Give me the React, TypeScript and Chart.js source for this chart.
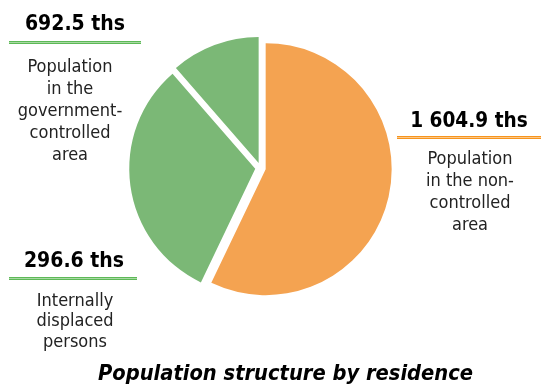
import React, { useEffect, useRef } from "react";
import { Chart, registerables } from "chart.js";

Chart.register(...registerables);

// Data
const categories = [
  "Population in the non-controlled area",
  "Population in the government-controlled area",
  "Internally displaced persons",
];
// slice shares (%)
const shares = [57.1, 31.5, 11.4];
const valueLabels = ["1 604.9 ths", "692.5 ths", "296.6 ths"];
const nonControlledLines = ["Population", "in the non-", "controlled", "area"];
const governmentLines = ["Population", "in the", "government-", "controlled", "area"];
const idpLines = ["Internally", "displaced", "persons"];
const chartTitle = "Population structure by residence";

const ORANGE = "#F4A351";
const GREEN = "#7BB876";
const LINE_GREEN = "#5DB957";
const LINE_GREEN_MID = "#A8D9A3";
const LINE_ORANGE = "#F7941D";
const LINE_ORANGE_MID = "#FBC88A";
const FONT = "'DejaVu Sans Condensed', 'DejaVu Sans', sans-serif";
const EXPLODE = 5.3;

const explodePlugin = {
  id: "explodeSlices",
  beforeDatasetDraw(chart: any, args: any) {
    args.meta.data.forEach((arc: any) => {
      const mid = (arc.startAngle + arc.endAngle) / 2;
      arc.$ox = arc.x;
      arc.$oy = arc.y;
      arc.x = arc.x + Math.cos(mid) * EXPLODE;
      arc.y = arc.y + Math.sin(mid) * EXPLODE;
    });
  },
  afterDatasetDraw(chart: any, args: any) {
    args.meta.data.forEach((arc: any) => {
      if (arc.$ox !== undefined) {
        arc.x = arc.$ox;
        arc.y = arc.$oy;
      }
    });
  },
};

function Line({ text, cx, baseline, size, bold = false, italic = false, color = "#222" }: any) {
  return (
    <div
      style={{
        position: "absolute",
        left: cx - 300,
        width: 600,
        top: baseline - 0.846 * size,
        height: size,
        lineHeight: size + "px",
        fontSize: size,
        fontFamily: FONT,
        fontWeight: bold ? "bold" : "normal",
        fontStyle: italic ? "italic" : "normal",
        textAlign: "center",
        color,
        whiteSpace: "nowrap",
      }}
    >
      {text}
    </div>
  );
}

function Rule({ x1, x2, y, color, mid }: any) {
  return (
    <div
      style={{
        position: "absolute",
        left: x1,
        width: x2 - x1,
        top: y,
        height: 1,
        background: mid,
        borderTop: `1px solid ${color}`,
        borderBottom: `1px solid ${color}`,
      }}
    />
  );
}

export default function App() {
  const ref = useRef<HTMLCanvasElement>(null);

  useEffect(() => {
    if (!ref.current) return;
    const chart = new Chart(ref.current, {
      type: "pie",
      data: {
        labels: categories,
        datasets: [
          {
            data: shares,
            backgroundColor: [ORANGE, GREEN, GREEN],
            borderWidth: 0,
          },
        ],
      },
      options: {
        animation: false,
        responsive: false,
        devicePixelRatio: 1,
        events: [],
        radius: 126,
        layout: { padding: { left: 0, right: 20, top: 0, bottom: 51 } },
        plugins: {
          legend: { display: false },
          tooltip: { enabled: false },
          title: { display: false },
        },
      } as any,
      plugins: [explodePlugin],
    });
    return () => chart.destroy();
  }, []);

  return (
    <div
      style={{
        position: "absolute",
        left: 0,
        top: 0,
        width: 541,
        height: 387,
        background: "#fff",
        overflow: "hidden",
      }}
    >
      <canvas ref={ref} width={541} height={387} style={{ position: "absolute", left: 0, top: 0 }} />

      <Line text={valueLabels[1]} cx={75} baseline={31} size={21} bold color="#000" />
      <Rule x1={9} x2={141} y={41} color={LINE_GREEN} mid={LINE_GREEN_MID} />
      {governmentLines.map((t, i) => (
        <Line key={"g" + i} text={t} cx={70} baseline={72.5 + i * 22} size={18} />
      ))}

      <Line text={valueLabels[0]} cx={469} baseline={127} size={20.6} bold color="#000" />
      <Rule x1={397} x2={541} y={136} color={LINE_ORANGE} mid={LINE_ORANGE_MID} />
      {nonControlledLines.map((t, i) => (
        <Line key={"n" + i} text={t} cx={470} baseline={164.5 + i * 22} size={18} />
      ))}

      <Line text={valueLabels[2]} cx={74} baseline={268} size={21} bold color="#000" />
      <Rule x1={9} x2={137} y={277} color={LINE_GREEN} mid={LINE_GREEN_MID} />
      {idpLines.map((t, i) => (
        <Line key={"i" + i} text={t} cx={75} baseline={306 + i * 20.5} size={18} />
      ))}

      <Line text={chartTitle} cx={285.5} baseline={380} size={21.7} bold italic color="#000" />
    </div>
  );
}
